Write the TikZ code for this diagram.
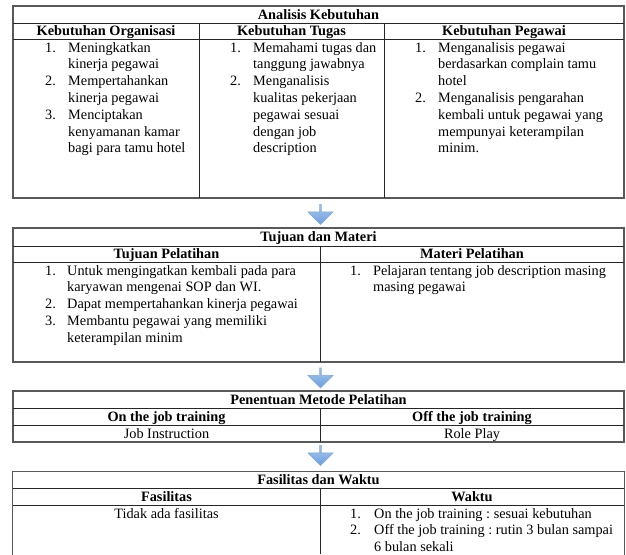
\documentclass[tikz,border=0pt]{standalone}
\usepackage{fontspec}
\setmainfont{Liberation Serif}
\usetikzlibrary{shapes.arrows,positioning,calc}
\definecolor{arrowtop}{RGB}{170,200,238}
\definecolor{arrowbottom}{RGB}{108,158,222}
\definecolor{arrowedge}{RGB}{125,168,225}
\frenchspacing

\begin{document}
\begin{tikzpicture}[x=1pt, y=-1pt,
    font=\fontsize{14.3}{16.8}\selectfont,
    outerline/.style={draw=black!65, line width=1.2pt},
    innerline/.style={draw=black!85, line width=0.8pt},
    panel/.style={outerline, inner sep=0pt, minimum width=611pt},
    titletext/.style={font=\fontsize{14.3}{16.8}\selectfont\bfseries, inner sep=0pt, text height=9.5pt, text depth=0pt},
    celltext/.style={inner sep=0pt, text height=9.5pt, text depth=0pt},
    listtext/.style={anchor=north west, inner sep=0pt},
    downarrow/.style={single arrow, shape border rotate=270, draw=arrowedge, line width=0.6pt,
                 top color=arrowtop, bottom color=arrowbottom, inner sep=0pt,
                 minimum height=20pt, minimum width=25pt, single arrow head extend=5pt}
  ]
    \useasboundingbox (0,0) rectangle (626,554);

    \node[panel, minimum height=192pt] (analisis) at (318.5,102) {};
    \draw[innerline] (13,23) -- (624,23);
    \draw[innerline] (13,39) -- (624,39);
    \draw[innerline] (199,23) -- (199,198);
    \draw[innerline] (384,23) -- (384,198);
    \node[titletext] (analisistitle) at (318.5,14.5) {Analisis Kebutuhan};
    \node[titletext] (organisasi) at (106,31) {Kebutuhan Organisasi};
    \node[titletext] (tugas) at (291.5,31) {Kebutuhan Tugas};
    \node[titletext] (pegawai) at (504,31) {Kebutuhan Pegawai};
    \node[listtext] (organisasilist) at (45,40.2) {\begin{tabular}{@{}p{23pt}@{}l@{}}
      1. & Meningkatkan\\ & kinerja pegawai\\
      2. & Mempertahankan\\ & kinerja pegawai\\
      3. & Menciptakan\\ & kenyamanan kamar\\ & bagi para tamu hotel\end{tabular}};
    \node[listtext] (tugaslist) at (230,40.2) {\begin{tabular}{@{}p{23pt}@{}l@{}}
      1. & Memahami tugas dan\\ & tanggung jawabnya\\
      2. & Menganalisis\\ & kualitas pekerjaan\\ & pegawai sesuai\\ & dengan job\\ & description\end{tabular}};
    \node[listtext] (pegawailist) at (415,40.2) {\begin{tabular}{@{}p{23pt}@{}l@{}}
      1. & Menganalisis pegawai\\ & berdasarkan complain tamu\\ & hotel\\
      2. & Menganalisis pengarahan\\ & kembali untuk pegawai yang\\ & mempunyai keterampilan\\ & minim.\end{tabular}};

    \node[panel, minimum height=134pt] (tujuan) at (318.5,295) {};
    \draw[innerline] (13,246) -- (624,246);
    \draw[innerline] (13,262) -- (624,262);
    \draw[innerline] (320,246) -- (320,362);
    \node[titletext] (tujuantitle) at (318.5,237) {Tujuan dan Materi};
    \node[titletext] (tujuanpel) at (166.5,254) {Tujuan Pelatihan};
    \node[titletext] (materipel) at (472,254) {Materi Pelatihan};
    \node[listtext] (tujuanlist) at (45,263.2) {\begin{tabular}{@{}p{22pt}@{}l@{}}
      1. & Untuk mengingatkan kembali pada para\\ & karyawan mengenai SOP dan WI.\\
      2. & Dapat mempertahankan kinerja pegawai\\
      3. & Membantu pegawai yang memiliki\\ & keterampilan minim\end{tabular}};
    \node[listtext] (materilist) at (350,263.2) {\begin{tabular}{@{}p{23pt}@{}l@{}}
      1. & Pelajaran tentang job description masing\\ & masing pegawai\end{tabular}};

    \node[panel, minimum height=51pt] (metode) at (318.5,416.5) {};
    \draw[innerline] (13,408) -- (624,408);
    \draw[innerline] (13,425) -- (624,425);
    \draw[innerline] (320,408) -- (320,442);
    \node[titletext] (metodetitle) at (318.5,399.5) {Penentuan Metode Pelatihan};
    \node[titletext] (onjob) at (166.5,416.5) {On the job training};
    \node[titletext] (offjob) at (472,416.5) {Off the job training};
    \node[celltext] (instruction) at (166.5,433.5) {Job Instruction};
    \node[celltext] (roleplay) at (472,433.5) {Role Play};

    \node[panel, draw=none, minimum height=82pt] (fasilitas) at (318.5,513) {};
    \draw[outerline] (fasilitas.south west) |- (fasilitas.north east) -- (fasilitas.south east);
    \draw[innerline] (13,488) -- (624,488);
    \draw[innerline] (13,505) -- (624,505);
    \draw[innerline] (320,488) -- (320,554);
    \node[titletext] (fasilitastitle) at (318.5,480) {Fasilitas dan Waktu};
    \node[titletext] (fasilitashead) at (166.5,496.5) {Fasilitas};
    \node[titletext] (waktuhead) at (472,496.5) {Waktu};
    \node[celltext] (tidakada) at (166.5,513.25) {Tidak ada fasilitas};
    \node[listtext] (waktulist) at (350,506.2) {\begin{tabular}{@{}p{24pt}@{}l@{}}
      1. & On the job training : sesuai kebutuhan\\
      2. & Off the job training : rutin 3 bulan sampai\\ & 6 bulan sekali\end{tabular}};

    \node[downarrow] (arrowa) at ($(analisis.south)!0.5!(tujuan.north)+(2,1)$) {};
    \node[downarrow] (arrowb) at ($(tujuan.south)!0.5!(metode.north)+(2,1)$) {};
    \node[downarrow] (arrowc) at ($(metode.south)!0.5!(fasilitas.north)+(2,-2)$) {};
  \end{tikzpicture}
\end{document}
